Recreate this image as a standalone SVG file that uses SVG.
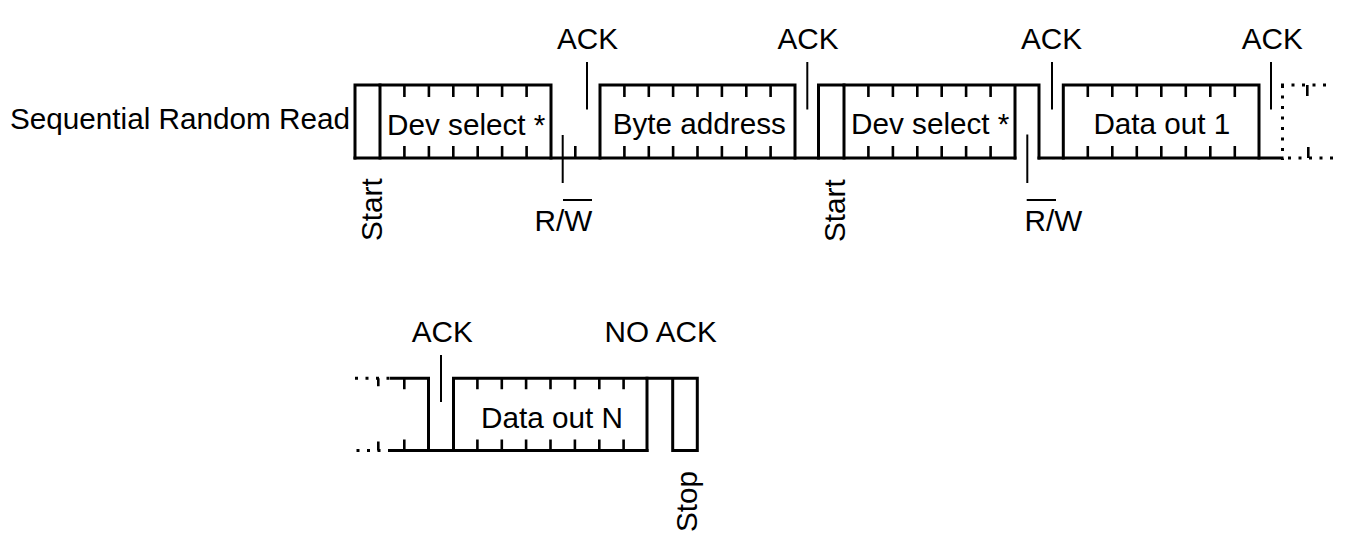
<svg xmlns="http://www.w3.org/2000/svg" width="1356" height="552" viewBox="0 0 1356 552">
<style>
text{font-family:"Liberation Sans",Arial,sans-serif;font-size:29.7px;fill:#000}
.w{fill:none;stroke:#000;stroke-width:3;stroke-linejoin:miter;stroke-linecap:square}
.t{stroke:#000;stroke-width:2.6;fill:none}
.a{stroke:#000;stroke-width:2;fill:none}
.d{stroke:#000;stroke-width:3;fill:none;stroke-dasharray:3 7.5}
</style>
<rect width="1356" height="552" fill="#fff"/>
<text x="10" y="128.5">Sequential Random Read</text>
<g id="row1">
  <g id="start1">
    <path class="w" d="M355,158 V85 H380 M380,85 V158"/>
    <text transform="translate(381.5,241) rotate(-90)">Start</text>
  </g>
  <g id="devsel1">
    <path class="w" d="M380,85 H551 V158"/>
    <path class="t" d="M404.4,85v12M428.9,85v12M453.3,85v12M477.7,85v12M502.1,85v12M526.6,85v12M404.4,158v-12M428.9,158v-12M453.3,158v-12M477.7,158v-12M502.1,158v-12M526.6,158v-12M575.3,158v-12"/>
    <text x="387" y="134.5">Dev select *</text>
  </g>
  <g id="rw1">
    <line class="a" x1="562.7" y1="135" x2="562.7" y2="183"/>
    <text x="534.5" y="230.7">R/W</text>
    <line class="a" x1="563" y1="200" x2="592" y2="200"/>
  </g>
  <g id="ack1">
    <line class="a" x1="587" y1="62" x2="587" y2="109.5"/>
    <text x="557" y="48.5">ACK</text>
  </g>
  <g id="byteaddr">
    <path class="w" d="M600,158 V85 H795 V158"/>
    <path class="t" d="M624.4,85v12M648.8,85v12M673.1,85v12M697.5,85v12M721.9,85v12M746.3,85v12M770.6,85v12M624.4,158v-12M648.8,158v-12M673.1,158v-12M697.5,158v-12M721.9,158v-12M746.3,158v-12M770.6,158v-12"/>
    <text x="612.7" y="134">Byte address</text>
  </g>
  <g id="ack2">
    <line class="a" x1="807.3" y1="62" x2="807.3" y2="109.5"/>
    <text x="777.5" y="48.5">ACK</text>
  </g>
  <g id="start2">
    <path class="w" d="M818.5,158 V85 H844 M844,85 V158"/>
    <text transform="translate(845,242) rotate(-90)">Start</text>
  </g>
  <g id="devsel2">
    <path class="w" d="M844,85 H1039 V158 M1015,85 V158"/>
    <path class="t" d="M868.4,85v12M892.9,85v12M917.3,85v12M941.7,85v12M966.1,85v12M990.6,85v12M868.4,158v-12M892.9,158v-12M917.3,158v-12M941.7,158v-12M966.1,158v-12M990.6,158v-12"/>
    <text x="851" y="134">Dev select *</text>
  </g>
  <g id="rw2">
    <line class="a" x1="1027.3" y1="134.5" x2="1027.3" y2="183"/>
    <text x="1024.5" y="230.7">R/W</text>
    <line class="a" x1="1026.7" y1="200" x2="1056" y2="200"/>
  </g>
  <g id="ack3">
    <line class="a" x1="1052" y1="62" x2="1052" y2="109.5"/>
    <text x="1021" y="48.5">ACK</text>
  </g>
  <g id="dataout1">
    <path class="w" d="M1063.3,158 V85 H1259 V158"/>
    <path class="t" d="M1087.8,85v12M1112.3,85v12M1136.8,85v12M1161.3,85v12M1185.8,85v12M1210.3,85v12M1234.8,85v12M1087.8,158v-12M1112.3,158v-12M1136.8,158v-12M1161.3,158v-12M1185.8,158v-12M1210.3,158v-12M1234.8,158v-12"/>
    <text x="1093.4" y="134">Data out 1</text>
  </g>
  <g id="ack4">
    <line class="a" x1="1271" y1="62" x2="1271" y2="109.5"/>
    <text x="1241.7" y="48.5">ACK</text>
  </g>
  <g id="cont1">
    <path class="d" d="M1282.5,85 V160"/>
    <path class="d" d="M1281,85 H1330"/>
    <path class="d" d="M1288,158 H1334"/>
    <path class="t" d="M1307.3,85v11M1308.3,158v-11"/>
  </g>
</g>
<g id="connectors">
  <path class="w" d="M355,158 H1015 M1039,158 H1282"/>
  <path class="w" d="M391.5,378.3 H428.5 V450.5 M391.5,450.5 H647"/>
</g>
<g id="row2">
  <g id="cont2">
    <path class="d" d="M355,378.3 H390"/>
    <path class="d" d="M356.5,450.5 H390"/>
    <path class="t" d="M378.3,378.3v8M378.3,450.5v-9M404.3,378.3v11M404.3,450.5v-11"/>
  </g>
  <g id="ack5">
    <line class="a" x1="441" y1="355" x2="441" y2="402"/>
    <text x="411.7" y="341.7">ACK</text>
  </g>
  <g id="dataoutN">
    <path class="w" d="M453.5,450.5 V378.3 H647 V450.5"/>
    <path class="t" d="M477.4,378.3v11M501.8,378.3v11M526.1,378.3v11M550.5,378.3v11M574.9,378.3v11M599.3,378.3v11M623.6,378.3v11M477.4,450.5v-11M501.8,450.5v-11M526.1,450.5v-11M550.5,450.5v-11M574.9,450.5v-11M599.3,450.5v-11M623.6,450.5v-11"/>
    <text x="481" y="428">Data out N</text>
  </g>
  <g id="noack">
    <text x="604.5" y="341.7">NO ACK</text>
  </g>
  <g id="stop">
    <path class="w" d="M647,378.3 H697.3 V450.5 H672.7 V378.3"/>
    <text transform="translate(696.5,532) rotate(-90)">Stop</text>
  </g>
</g>
</svg>
